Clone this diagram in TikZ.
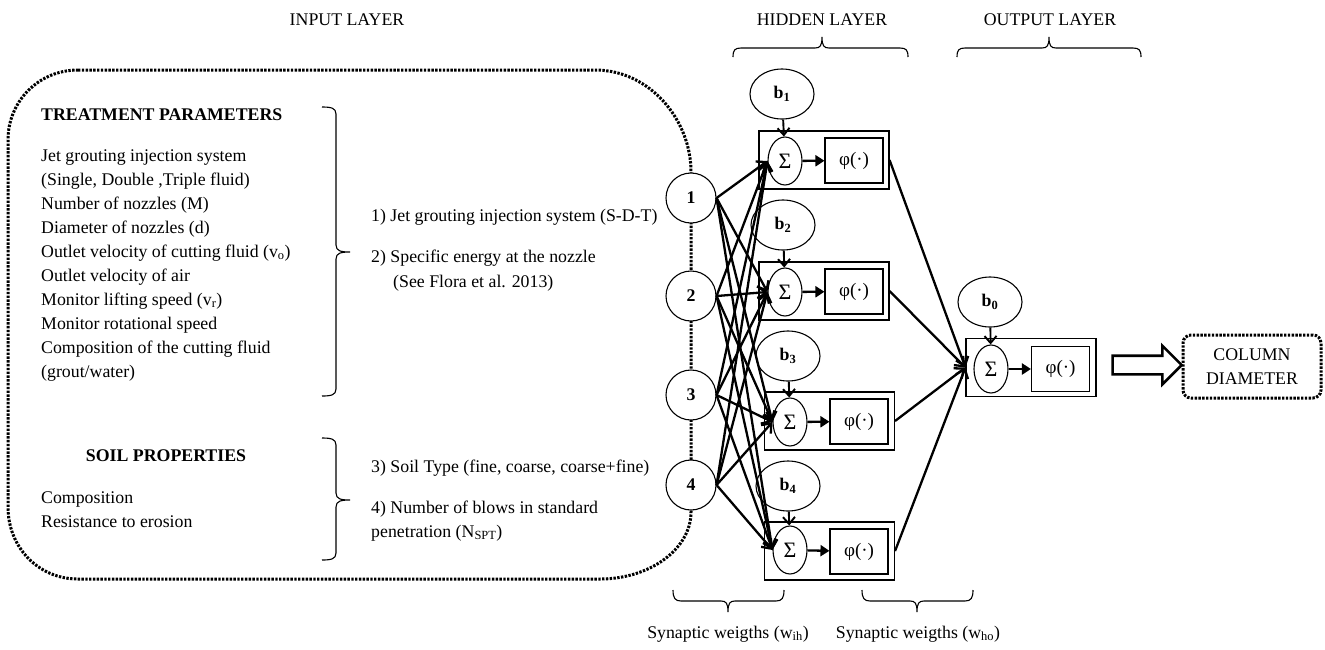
\documentclass[tikz,border=0pt]{standalone}
\usepackage{fontspec}
\setmainfont{Liberation Serif}
\usetikzlibrary{arrows.meta,shapes.geometric,shapes.arrows,calc}
\begin{document}
\begin{tikzpicture}[x=1pt,y=-1pt,
  every node/.style={font=\fontsize{17.8pt}{24pt}\selectfont},
  txt/.style={inner sep=0pt, anchor=base west},
  ctxt/.style={inner sep=0pt, anchor=base},
  bfnt/.style={font=\fontsize{17.8pt}{24pt}\selectfont\bfseries},
  inp/.style={circle, draw, fill=white, line width=1.1pt, minimum size=50pt, inner sep=0pt, bfnt},
  bias/.style={ellipse, draw, line width=1.1pt, minimum width=64pt, minimum height=50pt, inner sep=0pt, bfnt},
  sig/.style={ellipse, draw, line width=1.1pt, minimum width=34pt, minimum height=48pt, inner sep=0pt, font=\fontsize{22pt}{24pt}\selectfont},
  act/.style={rectangle, draw, line width=1.1pt, minimum width=58pt, minimum height=45pt, inner sep=0pt, font=\fontsize{19pt}{24pt}\selectfont},
  unitbox/.style={rectangle, draw, line width=1.1pt, minimum width=130pt, minimum height=58pt, inner sep=0pt},
  wire/.style={line width=2.3pt, -{Straight Barb[length=8pt,width=13pt]}},
  biaswire/.style={line width=1.9pt, -{Straight Barb[length=7pt,width=12pt]}},
  sigwire/.style={line width=2.3pt, -{Triangle[length=9pt,width=11pt]}},
  framedot/.style={line width=3pt, dash pattern=on 2.4pt off 1.4pt},
  brc/.style={line width=1.1pt},
]
\useasboundingbox (0,0) rectangle (1325,649);

% dotted frame of the input layer
\draw[framedot] (78,70) -- (595,70) .. controls (650,70) and (691,120) .. (691,172)
  -- (691,512) .. controls (691,549) and (650,579) .. (600,579)
  -- (78,579) .. controls (38,579) and (8,547) .. (8,507)
  -- (8,140) .. controls (8,101) and (39,70) .. (78,70);

% layer titles
\node[ctxt] (tin) at (347,25) {INPUT LAYER};
\node[ctxt] (thid) at (822,25) {HIDDEN LAYER};
\node[ctxt] (tout) at (1050,25) {OUTPUT LAYER};

% top braces
\draw[brc] (733,57) .. controls (733,50) and (735,48) .. (741,48) -- (815,48)
  .. controls (820,48) and (822,46) .. (822,37) .. controls (822,46) and (824,48) .. (829,48)
  -- (900,48) .. controls (906,48) and (908,50) .. (908,57);
\draw[brc] (957,57) .. controls (957,50) and (959,48) .. (965,48) -- (1042,48)
  .. controls (1047,48) and (1049,46) .. (1049,37) .. controls (1049,46) and (1051,48) .. (1056,48)
  -- (1133,48) .. controls (1139,48) and (1141,50) .. (1141,57);

% left texts
\node[txt,bfnt] (tp) at (41,120) {TREATMENT PARAMETERS};
\node[txt] (l1) at (41,161) {Jet grouting injection system};
\node[txt] (l2) at (41,185) {(Single, Double ,Triple fluid)};
\node[txt] (l3) at (41,209) {Number of nozzles (M)};
\node[txt] (l4) at (41,233) {Diameter of nozzles (d)};
\node[txt] (l5) at (41,257) {Outlet velocity of cutting fluid (v\textsubscript{o})};
\node[txt] (l6) at (41,281) {Outlet velocity of air};
\node[txt] (l7) at (41,305) {Monitor lifting speed (v\textsubscript{r})};
\node[txt] (l8) at (41,329) {Monitor rotational speed};
\node[txt] (l9) at (41,353) {Composition of the cutting fluid};
\node[txt] (l10) at (41,377) {(grout/water)};
\node[ctxt,bfnt] (sp) at (166,461) {SOIL PROPERTIES};
\node[txt] (s1t) at (41,503) {Composition};
\node[txt] (s2t) at (41,527) {Resistance to erosion};

% side braces
\draw[brc] (322,107) .. controls (331,107) and (336,108) .. (336,114) -- (336,245)
  .. controls (336,251) and (341,252) .. (350,252) .. controls (341,252) and (336,253) .. (336,259)
  -- (336,389) .. controls (336,395) and (331,396) .. (322,396);
\draw[brc] (322,438) .. controls (331,438) and (336,439) .. (336,445) -- (336,493)
  .. controls (336,499) and (341,500) .. (350,500) .. controls (341,500) and (336,501) .. (336,507)
  -- (336,553) .. controls (336,559) and (331,560) .. (322,560);

% right texts
\node[txt] (r1) at (371,221) {1) Jet grouting injection system (S-D-T)};
\node[txt] (r2) at (371,262) {2) Specific energy at the nozzle};
\node[txt] (r2b) at (393,287) {(See Flora et al. 2013)};
\node[txt] (r3) at (371,472) {3) Soil Type (fine, coarse, coarse+fine)};
\node[txt] (r4) at (371,513) {4) Number of blows in standard};
\node[txt] (r4b) at (371,537) {penetration (N\textsubscript{SPT})};

% input nodes
\node[inp] (i1) at (691,198) {1};
\node[inp] (i2) at (691,296) {2};
\node[inp] (i3) at (691,395) {3};
\node[inp] (i4) at (691,485) {4};

% hidden units
\node[unitbox] (u1) at (824,160) {};
\node[unitbox] (u2) at (824,291) {};
\node[unitbox] (u3) at (829.5,421) {};
\node[unitbox] (u4) at (829.5,551) {};
\node[sig] (s1) at (785,161) {Σ};
\node[sig] (s2) at (785,292) {Σ};
\node[sig] (s3) at (790,422) {Σ};
\node[sig] (s4) at (790,550) {Σ};
\node[act] (p1) at (854,160.5) {φ(·)};
\node[act] (p2) at (854,291.5) {φ(·)};
\node[act] (p3) at (859,421.5) {φ(·)};
\node[act] (p4) at (859,551.5) {φ(·)};
\node[bias] (b1) at (782,94) {b\textsubscript{1}};
\node[bias] (b2) at (783,225) {b\textsubscript{2}};
\node[bias] (b3) at (788,356) {b\textsubscript{3}};
\node[bias] (b4) at (788,486) {b\textsubscript{4}};

% output unit
\node[unitbox] (u0) at (1031,367.5) {};
\node[sig] (s0) at (991,369) {Σ};
\node[act] (p0) at (1060.5,369) {φ(·)};
\node[bias] (b0) at (990,302) {b\textsubscript{0}};

% column diameter
\node[framedot, draw, rounded corners=8pt, minimum width=138pt, minimum height=63pt, align=center, inner sep=0pt] (col) at (1252,366.5) {COLUMN\\DIAMETER};
\node[single arrow, draw, line width=2.6pt, minimum height=69pt, minimum width=36pt, single arrow head extend=10pt, inner xsep=0pt, inner ysep=8pt] (big) at (1142.5,365) {};

% bias arrows
\foreach \k in {1,2,3,4,0} {
  \draw[biaswire] (b\k) -- (s\k);
}
% sigma to phi
\foreach \k in {1,2,3,4,0} {
  \draw[sigwire] (s\k) -- (p\k);
}
% input to hidden
\foreach \i in {1,2,3,4} {
  \foreach \j in {1,2,3,4} {
    \draw[wire] (i\i.east) -- (s\j.west);
  }
}
% hidden to output
\foreach \j in {1,2,3,4} {
  \draw[wire] (u\j.east) -- (u0.west);
}

% bottom braces
\draw[brc] (673,590) .. controls (673,598) and (675,601) .. (681,601) -- (721,601)
  .. controls (726,601) and (728,603) .. (728,612) .. controls (728,603) and (730,601) .. (735,601)
  -- (776,601) .. controls (782,601) and (784,598) .. (784,590);
\draw[brc] (862,590) .. controls (862,598) and (864,601) .. (870,601) -- (910,601)
  .. controls (915,601) and (917,603) .. (917,612) .. controls (917,603) and (919,601) .. (924,601)
  -- (965,601) .. controls (971,601) and (973,598) .. (973,590);
\node[ctxt] (wih) at (728,638) {Synaptic weigths (w\textsubscript{ih})};
\node[ctxt] (who) at (918,638) {Synaptic weigths (w\textsubscript{ho})};
\end{tikzpicture}
\end{document}
